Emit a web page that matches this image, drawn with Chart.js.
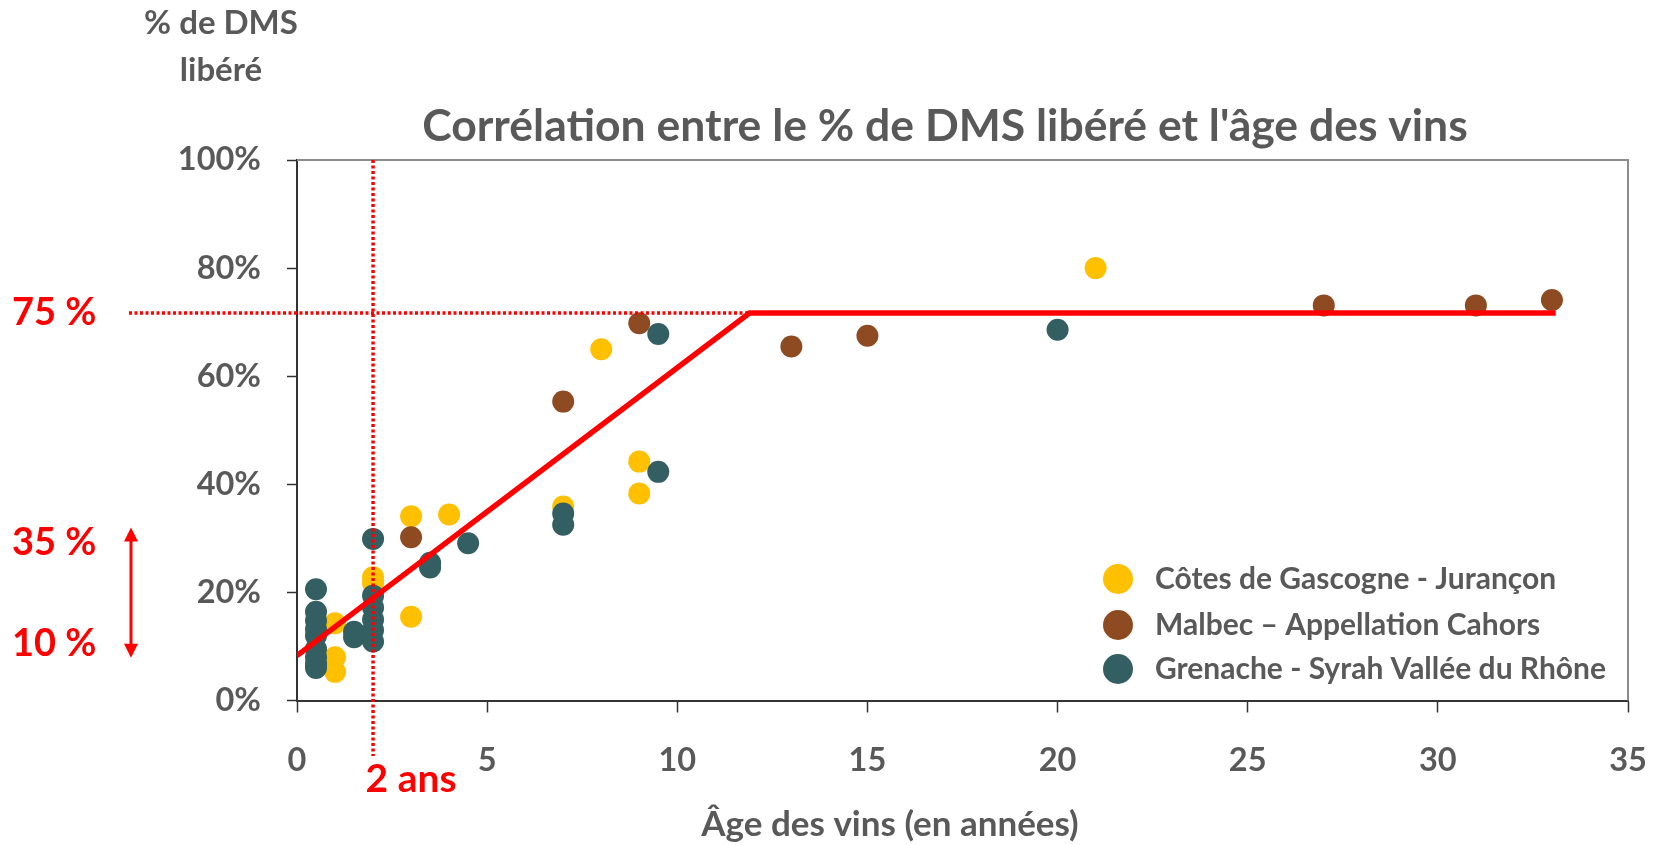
<!DOCTYPE html>
<html lang="fr">
<head>
<meta charset="utf-8">
<title>Corrélation DMS / âge des vins</title>
<script src="https://cdn.jsdelivr.net/npm/chart.js@4.4.1/dist/chart.umd.min.js"></script>
<style>
  html, body { margin: 0; padding: 0; background: #fff; }
  #wrap { width: 1659px; height: 845px; position: relative; }
</style>
</head>
<body>
<div id="wrap"><canvas id="dmsChart"></canvas></div>
<script>
// Côtes de Gascogne - Jurançon
const gascogneAge = [21, 8, 9, 9, 7, 3, 4, 2, 2, 3, 1, 1, 1];
const gascogneDms = [80, 65, 44.2, 38.3, 35.9, 34.1, 34.4, 22.8, 21.7, 15.5, 14.3, 8, 5.3];

// Malbec – Appellation Cahors
const malbecAge = [3, 7, 9, 13, 15, 27, 31, 33];
const malbecDms = [30.2, 55.3, 69.8, 65.5, 67.5, 73.1, 73.1, 74.1];

// Grenache - Syrah Vallée du Rhône
const grenacheAge = [0.5, 0.5, 0.5, 0.5, 0.5, 0.5, 0.5, 0.5, 0.5, 1.5, 1.5, 2, 2, 2, 2, 2, 2, 3.5, 3.5, 4.5, 7, 7, 9.5, 9.5, 20];
const grenacheDms = [20.6, 16.4, 14.8, 13.2, 12, 9.5, 8, 6.8, 6.0, 12.7, 11.7, 29.9, 19.4, 17.2, 15, 13, 10.9, 25.5, 24.6, 29.1, 34.6, 32.5, 42.3, 67.8, 68.6];

// tendance (rouge)
const trendAge = [0, 11.9, 33.1];
const trendDms = [8.3, 71.7, 71.7];

const seriesNames = ["Côtes de Gascogne - Jurançon", "Malbec – Appellation Cahors", "Grenache - Syrah Vallée du Rhône"];
const seriesColors = ["#FFC000", "#8E4B22", "#335F63"];

const xTicks = [0, 5, 10, 15, 20, 25, 30, 35];
const yTicks = [0, 20, 40, 60, 80, 100];

const chartTitle = "Corrélation entre le % de DMS libéré et l'âge des vins";
const yTitle = ["% de DMS", "libéré"];
const xTitle = "Âge des vins (en années)";

// repères rouges
const markAge = 2;          // "2 ans"
const plateau = 71.7;       // "75 %"
const arrowTop = 32, arrowBottom = 7.9;

const FONT = "Lato, 'Open Sans', sans-serif";
const GREY = "#595959";
const RED = "#FF0000";

function pts(xs, ys) {
  return xs.map((x, i) => ({ x: x, y: ys[i] }));
}

const annotations = {
  id: "annotations",
  beforeDatasetsDraw(chart) {
    const { ctx, chartArea: a } = chart;
    ctx.save();
    ctx.strokeStyle = "#8C8C8C";
    ctx.lineWidth = 2;
    ctx.beginPath();
    ctx.moveTo(a.left, a.top);
    ctx.lineTo(a.right, a.top);
    ctx.lineTo(a.right, a.bottom);
    ctx.stroke();
    ctx.restore();
  },
  afterDraw(chart) {
    const { ctx, chartArea: a } = chart;
    const xs = chart.scales.x, ys = chart.scales.y;
    ctx.save();

    // pointillés rouges
    ctx.strokeStyle = RED;
    ctx.lineWidth = 3.5;
    ctx.setLineDash([3, 2.5]);
    const px = xs.getPixelForValue(markAge);
    ctx.beginPath();
    ctx.moveTo(px, a.top);
    ctx.lineTo(px, 756);
    ctx.stroke();
    const py = ys.getPixelForValue(plateau);
    ctx.beginPath();
    ctx.moveTo(129, py);
    ctx.lineTo(xs.getPixelForValue(trendAge[1]), py);
    ctx.stroke();
    ctx.setLineDash([]);

    // flèche double
    const ax = 131;
    const t = ys.getPixelForValue(arrowTop), b = ys.getPixelForValue(arrowBottom);
    ctx.lineWidth = 3;
    ctx.beginPath();
    ctx.moveTo(ax, t + 10);
    ctx.lineTo(ax, b - 10);
    ctx.stroke();
    ctx.fillStyle = RED;
    ctx.beginPath();
    ctx.moveTo(ax, t); ctx.lineTo(ax - 7, t + 14); ctx.lineTo(ax + 7, t + 14); ctx.closePath();
    ctx.fill();
    ctx.beginPath();
    ctx.moveTo(ax, b); ctx.lineTo(ax - 7, b - 14); ctx.lineTo(ax + 7, b - 14); ctx.closePath();
    ctx.fill();

    // libellés rouges
    ctx.font = "bold 38px " + FONT;
    ctx.textBaseline = "middle";
    ctx.textAlign = "left";
    ctx.fillText("75 %", 12, py);
    ctx.fillText("35 %", 12, 543);
    ctx.fillText("10 %", 12, 644);
    ctx.textAlign = "center";
    ctx.font = "bold 39px " + FONT;
    ctx.fillText("2 ans", px + 38, 779);

    // titres
    ctx.fillStyle = GREY;
    ctx.font = "bold 44.5px " + FONT;
    ctx.fillText(chartTitle, 945, 127);
    ctx.font = "bold 33px " + FONT;
    ctx.fillText(yTitle[0], 221, 23);
    ctx.fillText(yTitle[1], 221, 70);
    ctx.font = "bold 35px " + FONT;
    ctx.fillText(xTitle, 890, 825);

    // légende
    const rows = [579, 625, 669];
    ctx.font = "bold 30px " + FONT;
    ctx.textAlign = "left";
    seriesNames.forEach((name, i) => {
      ctx.fillStyle = seriesColors[i];
      ctx.beginPath();
      ctx.arc(1118, rows[i], 15, 0, Math.PI * 2);
      ctx.fill();
      ctx.fillStyle = GREY;
      ctx.fillText(name, 1155, rows[i]);
    });
    ctx.restore();
  }
};

function build() {
  const ctx = document.getElementById("dmsChart").getContext("2d");
  new Chart(ctx, {
    type: "scatter",
    data: {
      datasets: [
        { label: seriesNames[0], data: pts(gascogneAge, gascogneDms), backgroundColor: seriesColors[0], borderWidth: 0, pointRadius: 11, order: 3 },
        { label: seriesNames[1], data: pts(malbecAge, malbecDms), backgroundColor: seriesColors[1], borderWidth: 0, pointRadius: 11, order: 2 },
        { label: seriesNames[2], data: pts(grenacheAge, grenacheDms), backgroundColor: seriesColors[2], borderWidth: 0, pointRadius: 11, order: 1 },
        { label: "tendance", data: pts(trendAge, trendDms), showLine: true, borderColor: RED, borderWidth: 5.5, pointRadius: 0, order: 0 }
      ]
    },
    options: {
      responsive: true,
      maintainAspectRatio: false,
      animation: false,
      layout: { padding: { top: 160, right: 31, left: 0, bottom: 0 } },
      plugins: { legend: { display: false }, tooltip: { enabled: false } },
      scales: {
        x: {
          type: "linear",
          min: 0, max: 35,
          afterBuildTicks: s => { s.ticks = xTicks.map(v => ({ value: v })); },
          afterFit: s => { s.height = 144.5; s.paddingLeft = 0; s.paddingRight = 0; },
          grid: { drawOnChartArea: false, drawTicks: true, tickLength: 12, tickColor: "#333", tickWidth: 1.5 },
          border: { color: "#333", width: 2 },
          ticks: { color: GREY, font: { family: FONT, size: 32.5, weight: "bold" }, padding: 29, maxRotation: 0 }
        },
        y: {
          type: "linear",
          min: 0, max: 100,
          afterBuildTicks: s => { s.ticks = yTicks.map(v => ({ value: v })); },
          afterFit: s => { s.width = 297; s.paddingTop = 0; s.paddingBottom = 0; },
          grid: { drawOnChartArea: false, drawTicks: true, tickLength: 10, tickColor: "#333", tickWidth: 1.5 },
          border: { color: "#333", width: 2 },
          ticks: { color: GREY, font: { family: FONT, size: 32.5, weight: "bold" }, padding: 26, callback: v => v + "%" }
        }
      }
    },
    plugins: [annotations]
  });
}

if (document.fonts && document.fonts.load) {
  Promise.all([document.fonts.load("bold 31px Lato")]).then(build, build);
} else {
  build();
}
</script>
</body>
</html>
